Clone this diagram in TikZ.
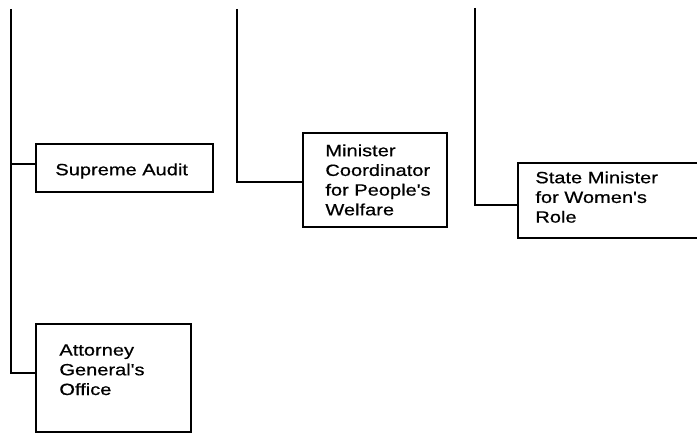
\documentclass[tikz,border=0pt]{standalone}
\usepackage{fontspec}
\newfontfamily\orgfont{Liberation Sans}[FakeStretch=1.23,FakeBold=0.6]
\usetikzlibrary{positioning}

\begin{document}
\begin{tikzpicture}[x=0.5pt,y=-0.5pt,
  office/.style={draw=black,line width=1.2pt,inner sep=0pt,anchor=north west},
  officetext/.style={font=\orgfont\fontsize{8.15}{9.85}\selectfont,align=left,inner sep=0pt,anchor=north west},
  link/.style={line width=0.95pt}]
\useasboundingbox (0,0) rectangle (697,433);
\clip (0,0) rectangle (697,433);

%lines coming down from above
\coordinate (topA) at (11,9);
\coordinate (topB) at (237,9);
\coordinate (topC) at (475,8);

%office boxes
\node[office,minimum width=88.5pt,minimum height=24pt] (audit) at (35,143) {};
\node[office,minimum width=77.5pt,minimum height=54pt] (attorney) at (35,323) {};
\node[office,minimum width=72pt,minimum height=47pt] (welfare) at (302,132) {};
\node[office,minimum width=100pt,minimum height=37.5pt] (women) at (517,162) {};

%office names
\node[officetext] (auditname) at (55,163) {Supreme Audit};
\node[officetext] (attorneyname) at (59,344) {Attorney\\General's\\Office};
\node[officetext] (welfarename) at (325,144) {Minister\\Coordinator\\for People's\\Welfare};
\node[officetext] (womenname) at (535,171) {State Minister\\for Women's\\Role};

%connectors
\coordinate (auditin) at ([yshift=2pt]audit.west);
\coordinate (attorneyin) at ([yshift=2.5pt]attorney.west);
\coordinate (welfarein) at ([yshift=-1pt]welfare.west);
\coordinate (womenin) at ([yshift=-2.25pt]women.west);
\draw[link] (topA) |- (attorneyin);
\draw[link] (topA |- auditin) -- (auditin);
\draw[link] (topB) |- (welfarein);
\draw[link] (topC) |- (womenin);

\end{tikzpicture}
\end{document}
